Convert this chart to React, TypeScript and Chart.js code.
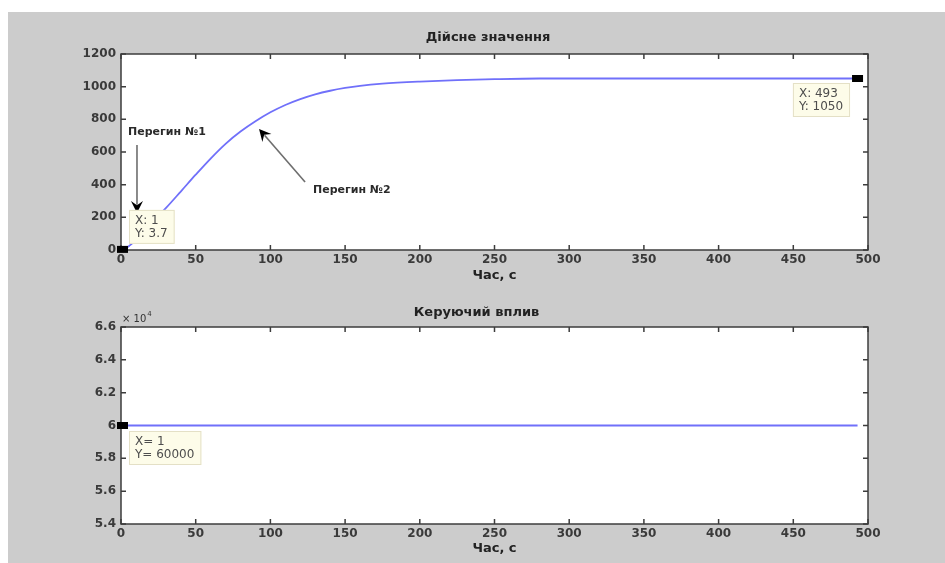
import React, { useEffect, useRef } from 'react';
import { Chart, registerables } from 'chart.js';

Chart.register(...registerables);

// ---------- data ----------
const topTitle = 'Дійсне значення';
const bottomTitle = 'Керуючий вплив';
const xAxisTitle = 'Час, с';

const topTime = [1, 5, 10, 15, 20, 25, 30, 40, 50, 60, 70, 80, 90, 100, 110, 120, 130, 140, 150, 160, 175, 200, 225, 250, 280, 350, 420, 493];
const topValue = [3.7, 22, 62, 110, 160, 208, 256, 358, 461, 560, 650, 725, 788, 843, 888, 924, 953, 975, 992, 1005, 1018, 1031, 1040, 1046, 1050, 1050, 1050, 1050];

const bottomTime = [1, 100, 200, 300, 400, 493];
const bottomValue = [60000, 60000, 60000, 60000, 60000, 60000];

const xTicks = [0, 50, 100, 150, 200, 250, 300, 350, 400, 450, 500];
const topYTicks = [0, 200, 400, 600, 800, 1000, 1200];
const bottomYTicks = [54000, 56000, 58000, 60000, 62000, 64000, 66000];
const bottomExponent = '4';

const annotationLabels = ['Перегин №1', 'Перегин №2'];
const annotationTextX = [4.7, 128.5];
const annotationTextY = [722, 367];
const arrowFromX = [10.7, 123.2];
const arrowFromY = [643, 416];
const arrowToX = [10.7, 92.4];
const arrowToY = [226, 741];

// ---------- styles ----------
const FONT = '"DejaVu Sans", "Liberation Sans", Arial, sans-serif';
const AXIS_COLOR = '#3c3c3c';
const TICK_COLOR = '#3a3a3a';
const TITLE_COLOR = '#222222';
const LINE_COLOR = 'rgb(112,112,250)';

type Tip = { index: number; place: 'upRight' | 'downLeft' | 'downRight'; sep: string };

function drawTip(ctx: CanvasRenderingContext2D, px: number, py: number, lines: string[], place: Tip['place']) {
  ctx.save();
  ctx.font = `12px ${FONT}`;
  const w = Math.max(...lines.map((l) => ctx.measureText(l).width)) + 13;
  const h = 34;
  let bx = px + 6.5;
  let by = py + 5.5;
  if (place === 'upRight') { bx = px + 6.5; by = py - 5.5 - h; }
  if (place === 'downLeft') { bx = px - 7.5 - w; by = py + 4.5; }
  ctx.fillStyle = '#fdfce9';
  ctx.fillRect(bx, by, w, h);
  ctx.strokeStyle = '#e4e0c6';
  ctx.lineWidth = 1;
  ctx.strokeRect(bx + 0.5, by + 0.5, w - 1, h - 1);
  ctx.fillStyle = '#4d4d4d';
  ctx.textBaseline = 'middle';
  ctx.textAlign = 'left';
  lines.forEach((l, i) => ctx.fillText(l, bx + 6, by + 10.5 + i * 13));
  ctx.fillStyle = '#000';
  ctx.fillRect(px - 5.5, py - 3.5, 11, 7);
  ctx.restore();
}

function drawArrow(ctx: CanvasRenderingContext2D, x1: number, y1: number, x2: number, y2: number) {
  const a = Math.atan2(y2 - y1, x2 - x1);
  const c = Math.cos(a), s = Math.sin(a);
  const len = 12, half = 6;
  ctx.save();
  ctx.strokeStyle = '#6e6e6e';
  ctx.lineWidth = 1.6;
  ctx.beginPath();
  ctx.moveTo(x1, y1);
  ctx.lineTo(x2 - c * len * 0.7, y2 - s * len * 0.7);
  ctx.stroke();
  ctx.fillStyle = '#000';
  ctx.beginPath();
  ctx.moveTo(x2, y2);
  ctx.lineTo(x2 - c * len - s * half, y2 - s * len + c * half);
  ctx.lineTo(x2 - c * len * 0.65, y2 - s * len * 0.65);
  ctx.lineTo(x2 - c * len + s * half, y2 - s * len - c * half);
  ctx.closePath();
  ctx.fill();
  ctx.restore();
}

type Cfg = {
  times: number[];
  values: number[];
  yMin: number;
  yMax: number;
  yTicks: number[];
  yFormat: (v: number) => string;
  title: string;
  titlePad: { top: number; bottom: number };
  xTitlePadBottom: number;
  leftWidth: number;
  rightWidth: number;
  xHeight: number;
  tips: Tip[];
  annotations: boolean;
  exponent?: string;
};

function makeChart(canvas: HTMLCanvasElement, cfg: Cfg) {
  const tickFont = { family: FONT, size: 12, weight: 'bold' as const };
  const plugin = {
    id: 'matlabAxes',
    beforeDraw(chart: any) {
      const { ctx, chartArea: { left, top, right, bottom } } = chart;
      ctx.save();
      ctx.fillStyle = '#ffffff';
      ctx.fillRect(left, top, right - left, bottom - top);
      ctx.restore();
    },
    afterDatasetsDraw(chart: any) {
      const { ctx, chartArea: { left, top, right, bottom } } = chart;
      const xs = chart.scales.x;
      const ys = chart.scales.y;
      const data = chart.data.datasets[0].data as { x: number; y: number }[];

      if (cfg.annotations) {
        annotationLabels.forEach((label, i) => {
          drawArrow(
            ctx,
            xs.getPixelForValue(arrowFromX[i]), ys.getPixelForValue(arrowFromY[i]),
            xs.getPixelForValue(arrowToX[i]), ys.getPixelForValue(arrowToY[i])
          );
          ctx.save();
          ctx.font = `bold 11px ${FONT}`;
          ctx.fillStyle = '#2a2a2a';
          ctx.textBaseline = 'middle';
          ctx.textAlign = 'left';
          ctx.fillText(label, xs.getPixelForValue(annotationTextX[i]), ys.getPixelForValue(annotationTextY[i]));
          ctx.restore();
        });
      }

      ctx.save();
      ctx.strokeStyle = AXIS_COLOR;
      ctx.lineWidth = 1.5;
      ctx.beginPath();
      const len = 5;
      xs.ticks.forEach((t: any) => {
        const p = xs.getPixelForValue(t.value);
        ctx.moveTo(p, bottom); ctx.lineTo(p, bottom - len);
        ctx.moveTo(p, top); ctx.lineTo(p, top + len);
      });
      ys.ticks.forEach((t: any) => {
        const p = ys.getPixelForValue(t.value);
        ctx.moveTo(left, p); ctx.lineTo(left + len, p);
        ctx.moveTo(right, p); ctx.lineTo(right - len, p);
      });
      ctx.stroke();
      ctx.strokeRect(left, top, right - left, bottom - top);
      ctx.restore();

      if (cfg.exponent) {
        ctx.save();
        ctx.fillStyle = '#333';
        ctx.textBaseline = 'middle';
        ctx.textAlign = 'left';
        ctx.font = `10px ${FONT}`;
        ctx.fillText('× 10', left + 1, top - 8);
        const w = ctx.measureText('× 10').width;
        ctx.font = `7px ${FONT}`;
        ctx.fillText(cfg.exponent, left + 2 + w, top - 13);
        ctx.restore();
      }

      cfg.tips.forEach((tip) => {
        const idx = tip.index < 0 ? data.length + tip.index : tip.index;
        const d = data[idx];
        drawTip(
          ctx,
          xs.getPixelForValue(d.x),
          ys.getPixelForValue(d.y),
          [`X${tip.sep}${d.x}`, `Y${tip.sep}${d.y}`],
          tip.place
        );
      });
    },
  };

  return new Chart(canvas, {
    type: 'line',
    data: {
      datasets: [
        {
          data: cfg.times.map((t, i) => ({ x: t, y: cfg.values[i] })),
          borderColor: LINE_COLOR,
          borderWidth: 1.8,
          pointRadius: 0,
          fill: false,
          cubicInterpolationMode: 'monotone',
        },
      ],
    },
    options: {
      responsive: false,
      animation: false,
      devicePixelRatio: 1,
      layout: { padding: 0 },
      plugins: {
        legend: { display: false },
        tooltip: { enabled: false },
        title: {
          display: true,
          text: cfg.title,
          color: TITLE_COLOR,
          font: { family: FONT, size: 13, weight: 'bold' },
          padding: cfg.titlePad,
        },
      },
      scales: {
        x: {
          type: 'linear',
          min: 0,
          max: 500,
          afterBuildTicks: (s: any) => { s.ticks = xTicks.map((v) => ({ value: v })); },
          ticks: { font: tickFont, color: TICK_COLOR, padding: 3, maxRotation: 0, autoSkip: false },
          grid: { display: false, drawTicks: false },
          border: { display: false },
          title: {
            display: true,
            text: xAxisTitle,
            color: TITLE_COLOR,
            font: { family: FONT, size: 13, weight: 'bold' },
            padding: { top: 0, bottom: cfg.xTitlePadBottom },
          },
          afterFit: (s: any) => { s.height = cfg.xHeight; },
        },
        y: {
          type: 'linear',
          min: cfg.yMin,
          max: cfg.yMax,
          afterBuildTicks: (s: any) => { s.ticks = cfg.yTicks.map((v) => ({ value: v })); },
          ticks: { font: tickFont, color: TICK_COLOR, padding: 5, callback: (v: any) => cfg.yFormat(Number(v)) },
          grid: { display: false, drawTicks: false },
          border: { display: false },
          afterFit: (s: any) => { s.width = cfg.leftWidth; },
        },
        y2: {
          type: 'linear',
          position: 'right',
          display: true,
          ticks: { display: false },
          grid: { display: false, drawTicks: false },
          border: { display: false },
          afterFit: (s: any) => { s.width = cfg.rightWidth; },
        },
      },
    },
    plugins: [plugin],
  } as any);
}

export default function App() {
  const topRef = useRef<HTMLCanvasElement>(null);
  const botRef = useRef<HTMLCanvasElement>(null);

  useEffect(() => {
    const top = makeChart(topRef.current!, {
      times: topTime,
      values: topValue,
      yMin: 0,
      yMax: 1200,
      yTicks: topYTicks,
      yFormat: (v) => String(v),
      title: topTitle,
      titlePad: { top: 18.2, bottom: 8.2 },
      xTitlePadBottom: 8.2,
      leftWidth: 113,
      rightWidth: 100,
      xHeight: 42,
      tips: [
        { index: 0, place: 'upRight', sep: ': ' },
        { index: -1, place: 'downLeft', sep: ': ' },
      ],
      annotations: true,
    });
    const bottom = makeChart(botRef.current!, {
      times: bottomTime,
      values: bottomValue,
      yMin: 54000,
      yMax: 66000,
      yTicks: bottomYTicks,
      yFormat: (v) => String(Math.round(v / 1000) / 10),
      title: bottomTitle,
      titlePad: { top: 13.2, bottom: 6.2 },
      xTitlePadBottom: 6.7,
      leftWidth: 113,
      rightWidth: 77,
      xHeight: 39,
      tips: [{ index: 0, place: 'downRight', sep: '= ' }],
      annotations: false,
      exponent: bottomExponent,
    });
    return () => {
      top.destroy();
      bottom.destroy();
    };
  }, []);

  return (
    <div
      style={{
        position: 'absolute',
        left: 8,
        top: 12,
        width: 937,
        height: 551,
        background: '#cccccc',
        overflow: 'hidden',
      }}
    >
      <canvas ref={topRef} width={960} height={280} style={{ position: 'absolute', left: 0, top: 0, width: 960, height: 280 }} />
      <canvas ref={botRef} width={937} height={271} style={{ position: 'absolute', left: 0, top: 280, width: 937, height: 271 }} />
    </div>
  );
}
